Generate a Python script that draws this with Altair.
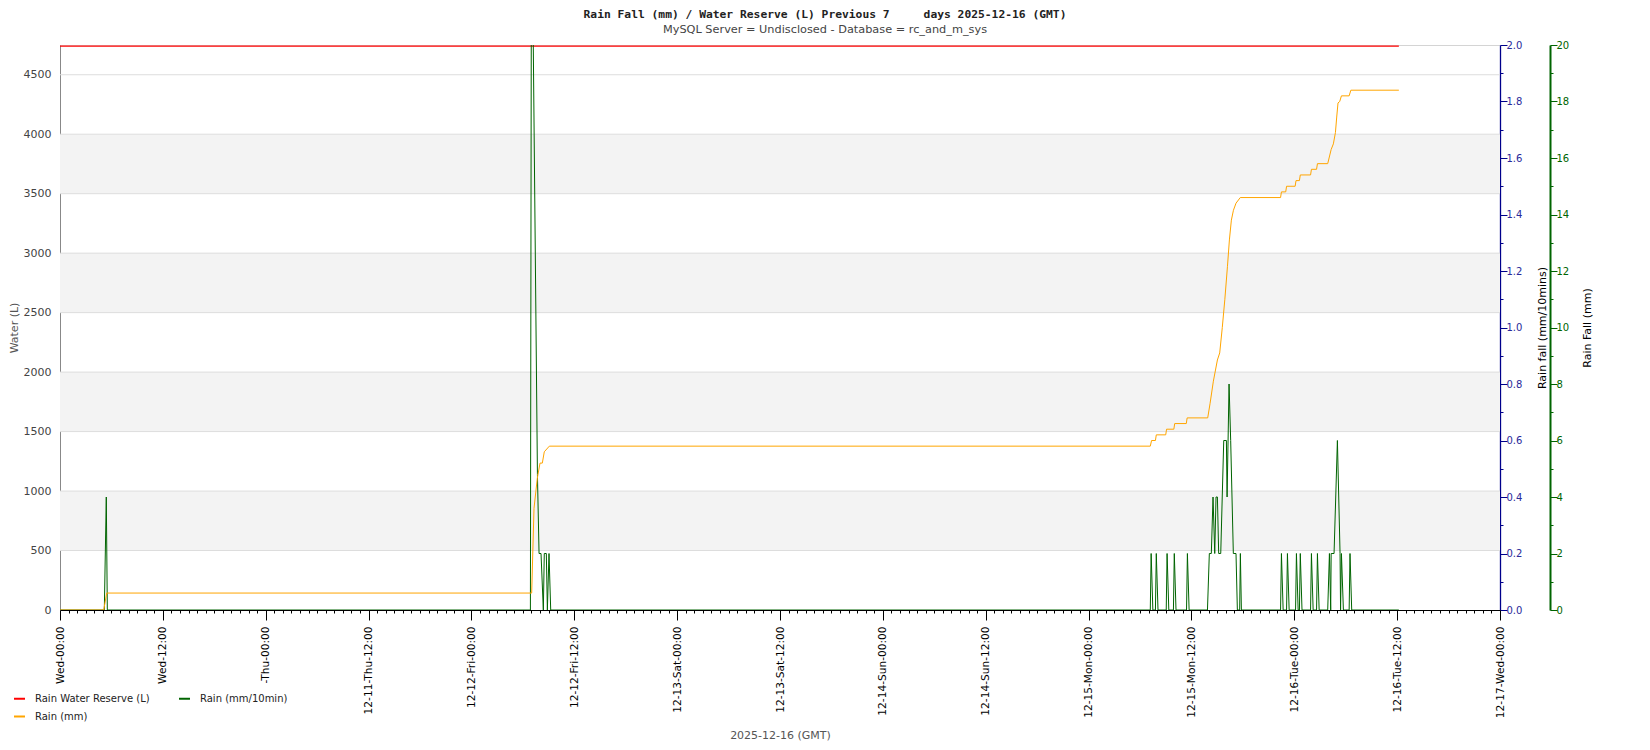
import json
import altair as alt
import pandas as pd

W, H = 1440, 565
FONT = "DejaVu Sans"

SERIES = ["Rain Water Reserve (L)", "Rain (mm)", "Rain (mm/10min)"]
COLORS = ["#ff0000", "#ffa500", "#006400"]

X_LABELS = ["Wed-00:00", "Wed-12:00", "-Thu-00:00", "12-11-Thu-12:00",
            "12-12-Fri-00:00", "12-12-Fri-12:00", "12-13-Sat-00:00",
            "12-13-Sat-12:00", "12-14-Sun-00:00", "12-14-Sun-12:00",
            "12-15-Mon-00:00", "12-15-Mon-12:00", "12-16-Tue-00:00",
            "12-16-Tue-12:00", "12-17-Wed-00:00"]
HOURS = list(range(0, 169))

# time = hours since 2025-12-10 00:00 GMT
RESERVE_T = [0.0, 156.2]
RESERVE_L = [4740, 4740]

RAIN10_T = [0, 5.17, 5.4, 5.52, 54.88, 55.03, 55.2, 55.7, 55.89, 56.12, 56.39,
            56.5, 56.74, 56.86, 57.05, 57.25,
            127.2, 127.3, 127.5, 127.8, 127.9, 128.1, 129.06, 129.16, 129.36,
            129.9, 130.0, 130.2, 131.43, 131.53, 131.73,
            133.87, 134.09, 134.32, 134.52, 134.72, 134.87, 135.03, 135.18,
            135.42, 135.77, 136.08, 136.16, 136.39, 136.58, 136.89, 137.2,
            137.36, 137.63, 137.71, 137.83,
            142.4, 142.5, 142.7, 143.1, 143.2, 143.4, 144.15, 144.25, 144.45,
            144.6, 144.7, 144.9, 145.9, 146.0, 146.2, 146.6, 146.7, 146.9,
            147.9, 148.1, 148.25, 148.3, 148.64, 149.03, 149.34, 149.4, 149.5,
            149.73, 150.4, 150.5, 150.7, 156.2]
RAIN10_V = [0, 0, 0.4, 0, 0, 3.0, 2.05, 0.48, 0.2, 0.2, 0,
            0.2, 0.2, 0, 0.2, 0,
            0, 0.2, 0, 0, 0.2, 0, 0, 0.2, 0,
            0, 0.2, 0, 0, 0.2, 0,
            0, 0.2, 0.2, 0.4, 0.2, 0.4, 0.4, 0.2,
            0.2, 0.6, 0.6, 0.4, 0.8, 0.6, 0.2, 0.2,
            0, 0, 0.2, 0,
            0, 0.2, 0, 0, 0.2, 0, 0, 0.2, 0,
            0, 0.2, 0, 0, 0.2, 0, 0, 0.2, 0,
            0, 0.2, 0, 0.2, 0.2, 0.6, 0.2, 0, 0.2,
            0, 0, 0.2, 0, 0]

RAINMM_T = [0, 5.1, 5.45, 55.03, 55.3, 55.69, 56.0, 56.27, 56.5, 57.09,
            127.2, 127.35, 127.8, 127.9, 129.0, 129.1, 129.95, 130.05,
            131.4, 131.5, 133.9, 134.17, 134.56, 135.03, 135.3, 135.6, 135.9,
            136.2, 136.43, 136.66, 136.9, 137.2, 137.7, 142.4, 142.5, 143.0,
            143.1, 144.1, 144.2, 144.6, 144.7, 145.9, 146.0, 146.6, 146.7,
            147.9, 148.06, 148.3, 148.56, 148.8, 148.95, 149.1, 149.3, 149.5,
            150.4, 150.6, 156.2]
RAINMM_V = [0, 0, 0.6, 0.6, 3.6, 4.67, 5.2, 5.2, 5.6, 5.8,
            5.8, 6.0, 6.0, 6.2, 6.2, 6.4, 6.4, 6.6,
            6.6, 6.8, 6.8, 7.3, 8.1, 8.85, 9.1, 10.0, 11.0,
            12.15, 13.1, 13.8, 14.15, 14.4, 14.6, 14.6, 14.8, 14.8,
            15.0, 15.0, 15.2, 15.2, 15.4, 15.4, 15.6, 15.6, 15.8,
            15.8, 16.0, 16.3, 16.5, 16.9, 17.45, 17.95, 18.0, 18.2,
            18.2, 18.4, 18.4]

BAND_LO = [500, 1500, 2500, 3500]
BAND_HI = [1000, 2000, 3000, 4000]
GRID_L = [500, 1000, 1500, 2000, 2500, 3000, 3500, 4000, 4500]
WATER_TICKS = [0] + GRID_L
BLUE_TICKS = [round(i / 10, 1) for i in range(21)]
GREEN_TICKS = list(range(21))

TITLE = "Rain Fall (mm) / Water Reserve (L) Previous 7" + "\u00a0" * 5 + "days 2025-12-16 (GMT)"
SUBTITLE = "MySQL Server = Undisclosed - Database = rc_and_m_sys"
X_TITLE = "2025-12-16 (GMT)"

reserve = pd.DataFrame({"t": RESERVE_T, "v": RESERVE_L, "series": SERIES[0]})
rainmm = pd.DataFrame({"t": RAINMM_T, "v": RAINMM_V, "series": SERIES[1]})
rain10 = pd.DataFrame({"t": RAIN10_T, "v": RAIN10_V, "series": SERIES[2]})
bands = pd.DataFrame({"lo": BAND_LO, "hi": BAND_HI})
grid = pd.DataFrame({"g": GRID_L})

x_scale = alt.Scale(domain=[0, 168], nice=False, zero=False)
x_axis = alt.Axis(
    values=HOURS,
    labelExpr="datum.value % 12 === 0 ? " + json.dumps(X_LABELS) + "[datum.value / 12] : ''",
    labelAngle=270, labelFont=FONT, labelFontSize=10.6, labelColor="#000",
    labelPadding=6, labelOverlap=False, labelFlush=False, labelBound=False,
    tickColor="#000", tickWidth=1,
    tickSize={"condition": {"test": "datum.value % 12 === 0", "value": 10}, "value": 3},
    domainColor="#000", grid=False, zindex=1,
    title=X_TITLE, titleFont=FONT, titleFontSize=11, titleFontWeight="normal",
    titleColor="#555", titlePadding=12,
)
X = alt.X("t:Q", scale=x_scale, axis=x_axis)

legend = alt.Legend(
    title=None, orient="none", legendX=-47, legendY=647, columns=2,
    symbolType="stroke", symbolSize=120, symbolStrokeWidth=2,
    labelFont=FONT, labelFontSize=10, labelColor="#222", labelOffset=9,
    columnPadding=25, rowPadding=6, labelLimit=0, padding=0,
)
COLOR = alt.Color("series:N", scale=alt.Scale(domain=SERIES, range=COLORS), legend=legend)

water_scale = alt.Scale(domain=[0, 4750], nice=False, zero=True)
water_axis = alt.Axis(
    orient="left", values=WATER_TICKS, format="d", grid=False, ticks=False, tickSize=0,
    labelFont=FONT, labelFontSize=11, labelColor="#444", labelPadding=9,
    labelFlush=False, domainColor="#888",
    title="Water (L)", titleFont=FONT, titleFontSize=11, titleFontWeight="normal",
    titleColor="#555", titlePadding=4,
)

band_layer = alt.Chart(bands).mark_rect(color="#f3f3f3").encode(
    y=alt.Y("lo:Q", scale=water_scale, axis=water_axis),
    y2="hi:Q",
)
grid_layer = alt.Chart(grid).mark_rule(color="#dddddd", strokeWidth=1).encode(
    y=alt.Y("g:Q", scale=water_scale, axis=water_axis),
)
reserve_layer = alt.Chart(reserve).mark_line(strokeWidth=1.2).encode(
    x=X, y=alt.Y("v:Q", scale=water_scale, axis=water_axis), color=COLOR,
)
left = alt.layer(band_layer, grid_layer, reserve_layer)

blue_axis = alt.Axis(
    orient="right", values=BLUE_TICKS,
    labelExpr="round(datum.value * 10) % 2 === 0 ? format(datum.value, '.1f') : ''",
    labelFont=FONT, labelFontSize=10, labelColor="#2a2a9a", labelPadding=-1,
    labelFlush=False, labelOverlap=False,
    tickColor="#00008b",
    tickSize={"condition": {"test": "round(datum.value * 10) % 2 === 0", "value": 7}, "value": 3},
    domainColor="#00008b", domainWidth=1.3, grid=False,
    title="Rain fall (mm/10mins)", titleAngle=270, titleFont=FONT, titleFontSize=11,
    titleFontWeight="normal", titleColor="#000", titlePadding=26,
)
rain10_layer = alt.Chart(rain10).mark_line(strokeWidth=1, clip=True).encode(
    x=X,
    y=alt.Y("v:Q", scale=alt.Scale(domain=[0, 2], nice=False, zero=True), axis=blue_axis),
    color=COLOR,
)

green_axis = alt.Axis(
    orient="right", offset=50, values=GREEN_TICKS,
    labelExpr="datum.value % 2 === 0 ? format(datum.value, 'd') : ''",
    labelFont=FONT, labelFontSize=10, labelColor="#006400", labelPadding=-1,
    labelFlush=False, labelOverlap=False,
    tickColor="#006400",
    tickSize={"condition": {"test": "datum.value % 2 === 0", "value": 7}, "value": 3},
    domainColor="#006400", domainWidth=2, grid=False,
    title="Rain Fall (mm)", titleAngle=270, titleFont=FONT, titleFontSize=11,
    titleFontWeight="normal", titleColor="#000", titlePadding=24,
)
rainmm_layer = alt.Chart(rainmm).mark_line(strokeWidth=1, clip=True).encode(
    x=X,
    y=alt.Y("v:Q", scale=alt.Scale(domain=[0, 20], nice=False, zero=True), axis=green_axis),
    color=COLOR,
)

chart = alt.layer(left, rain10_layer, rainmm_layer).resolve_scale(
    y="independent"
).properties(
    width=W, height=H,
    autosize=alt.AutoSizeParams(type="none"),
    padding={"left": 52, "top": 37, "right": 120, "bottom": 132},
    title=alt.TitleParams(
        text=TITLE, subtitle=SUBTITLE, anchor="middle", frame="group", dx=45,
        offset=5, font="DejaVu Sans Mono", fontSize=11.3, fontWeight="bold",
        color="#222", subtitleFont=FONT, subtitleFontSize=11.3,
        subtitleColor="#444", subtitlePadding=3,
    ),
).configure_view(stroke="#d4d4d4")

chart.save("out.html", embed_options={"renderer": "svg", "actions": False})
